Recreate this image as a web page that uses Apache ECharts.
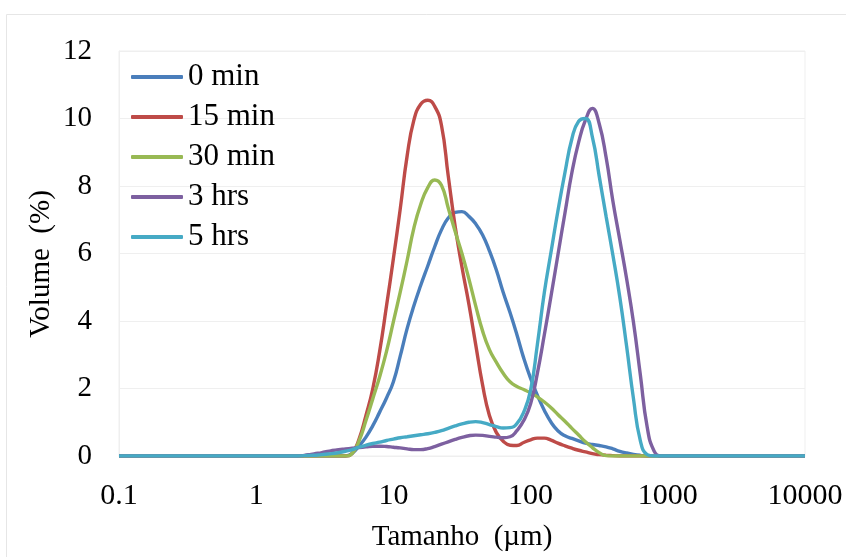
<!DOCTYPE html>
<html>
<head>
<meta charset="utf-8">
<script src="https://cdn.jsdelivr.net/npm/echarts@6/dist/echarts.min.js"></script>
<style>html,body{margin:0;padding:0;background:#fff}#c{width:846px;height:557px}</style>
</head>
<body>
<div id="c"></div>
<script>
// ---- data: particle size (µm) and volume (%) ----
var seriesNames = ['0 min', '15 min', '30 min', '3 hrs', '5 hrs'];
var xTickLabels = ['0.1', '1', '10', '100', '1000', '10000'];

var sizes = [0.1, 1,
  2.00, 2.24, 2.51, 2.82, 3.16, 3.55, 3.98, 4.47, 5.01, 5.62,
  6.31, 7.08, 7.94, 8.91, 10.0, 11.2, 12.6, 14.1, 15.8, 17.8,
  20.0, 22.4, 25.1, 28.2, 31.6, 35.5, 39.8, 44.7, 50.1, 56.2,
  63.1, 70.8, 79.4, 89.1, 100, 112, 126, 141, 158, 178,
  200, 224, 251, 282, 316, 355, 398, 447, 501, 562,
  631, 708, 794, 891, 1000,
  10000];

var vol0min = [0, 0,
  0, 0, 0, 0, 0, 0, 0, 0, 0.08, 0.3,
  0.56, 0.9, 1.3, 1.72, 2.2, 2.95, 3.78, 4.45, 5.05, 5.63,
  6.2, 6.7, 7.05, 7.22, 7.24, 7.1, 6.88, 6.55, 6.08, 5.52,
  4.85, 4.25, 3.6, 2.9, 2.3, 1.8, 1.35, 1.0, 0.75, 0.6,
  0.52, 0.45, 0.38, 0.34, 0.31, 0.27, 0.21, 0.14, 0.09, 0.05,
  0.02, 0, 0, 0, 0,
  0];

var vol15min = [0, 0,
  0, 0, 0, 0, 0, 0, 0, 0, 0.08, 0.5,
  1.2, 2.0, 3.1, 4.45, 5.85, 7.3, 8.9, 9.95, 10.42, 10.54,
  10.36, 9.8, 8.3, 6.8, 5.6, 4.5, 3.3, 2.1, 1.2, 0.7,
  0.44, 0.32, 0.31, 0.4, 0.48, 0.53, 0.53, 0.47, 0.38, 0.3,
  0.23, 0.17, 0.12, 0.07, 0.04, 0.02, 0.01, 0, 0, 0,
  0, 0, 0, 0, 0,
  0];

var vol30min = [0, 0,
  0, 0, 0, 0, 0, 0, 0, 0, 0.08, 0.45,
  1.05, 1.7, 2.35, 3.1, 3.98, 4.85, 5.8, 6.75, 7.45, 7.95,
  8.18, 8.02, 7.35, 6.65, 6.0, 5.25, 4.45, 3.7, 3.15, 2.78,
  2.45, 2.2, 2.06, 1.97, 1.87, 1.75, 1.6, 1.43, 1.23, 1.03,
  0.82, 0.62, 0.42, 0.25, 0.1, 0.01, 0, 0, 0, 0,
  0, 0, 0, 0, 0,
  0];

var vol3hrs = [0, 0,
  0, 0.02, 0.05, 0.08, 0.12, 0.16, 0.19, 0.21, 0.23, 0.25,
  0.27, 0.29, 0.29, 0.28, 0.26, 0.24, 0.21, 0.19, 0.19, 0.22,
  0.28, 0.35, 0.42, 0.49, 0.55, 0.6, 0.62, 0.61, 0.58, 0.56,
  0.54, 0.57, 0.75, 1.05, 1.55, 2.45, 3.6, 4.75, 5.95, 7.2,
  8.4, 9.3, 9.95, 10.3, 9.85, 8.85, 7.55, 6.4, 5.25, 3.96,
  2.4, 0.85, 0.15, 0, 0,
  0];

var vol5hrs = [0, 0,
  0, 0.01, 0.02, 0.03, 0.05, 0.07, 0.1, 0.14, 0.19, 0.26,
  0.32, 0.37, 0.41, 0.46, 0.5, 0.54, 0.57, 0.6, 0.63, 0.66,
  0.7, 0.75, 0.82, 0.89, 0.95, 1.0, 1.02, 0.99, 0.93, 0.87,
  0.83, 0.84, 0.96, 1.3, 1.95, 3.3, 4.85, 6.05, 7.25, 8.4,
  9.4, 9.92, 10.0, 9.45, 8.3, 7.1, 5.95, 4.7, 3.25, 1.7,
  0.45, 0.04, 0, 0, 0,
  0];

var volumes = [vol0min, vol15min, vol30min, vol3hrs, vol5hrs];
var colors = ['#4a7ebb', '#be4b48', '#98b954', '#7d60a0', '#46aac5'];

var FONT = "'Liberation Serif', 'Times New Roman', serif";
var chart = echarts.init(document.getElementById('c'), null, { renderer: 'canvas' });
chart.setOption({
  backgroundColor: '#fff',
  animation: false,
  color: colors,
  graphic: [{
    type: 'rect', silent: true,
    shape: { x: 6.5, y: 14.5, width: 900, height: 700 },
    style: { fill: 'none', stroke: '#e6e6e6', lineWidth: 1 }
  }, {
    type: 'text', silent: true,
    x: 41, y: 264, rotation: Math.PI / 2,
    style: {
      text: 'Volume  (%)', fill: '#000',
      font: "29px 'Liberation Serif', 'Times New Roman', serif",
      align: 'center', verticalAlign: 'middle',
      textAlign: 'center', textVerticalAlign: 'middle'
    }
  }],
  grid: { left: 119, right: 41, top: 51, bottom: 101, show: true, borderColor: '#efefef', borderWidth: 1, backgroundColor: 'transparent' },
  legend: {
    orient: 'vertical', left: 131, top: 61, padding: 0,
    icon: 'roundRect', itemWidth: 52, itemHeight: 4, itemGap: 8,
    textStyle: { fontFamily: FONT, fontSize: 31, color: '#000', lineHeight: 32 },
    data: seriesNames
  },
  xAxis: {
    type: 'log', logBase: 10, min: 0.1, max: 10000,
    name: 'Tamanho  (µm)', nameLocation: 'middle', nameGap: 67,
    nameTextStyle: { fontFamily: FONT, fontSize: 29, color: '#000' },
    axisLine: { show: true, lineStyle: { color: '#efefef' } },
    axisTick: { show: false },
    splitLine: { show: false },
    minorTick: { show: false },
    axisLabel: {
      fontFamily: FONT, fontSize: 30, color: '#000', margin: 25,
      formatter: function (v) { var i = Math.round(Math.log10(v)) + 1; return xTickLabels[i] !== undefined ? xTickLabels[i] : String(v); }
    }
  },
  yAxis: {
    type: 'value', min: 0, max: 12, interval: 2,
    axisLine: { show: true, lineStyle: { color: '#efefef' } },
    axisTick: { show: false },
    splitLine: { show: true, lineStyle: { color: '#efefef', width: 1 } },
    axisLabel: { fontFamily: FONT, fontSize: 29, color: '#000', margin: 27 }
  },
  series: seriesNames.map(function (n, i) {
    return {
      name: n, type: 'line',
      data: sizes.map(function (s, k) { return [s, volumes[i][k]]; }),
      smooth: 0.5, symbol: 'none', showSymbol: false,
      lineStyle: { width: 3.4, color: colors[i] },
      itemStyle: { color: colors[i] }
    };
  })
});
</script>
</body>
</html>
